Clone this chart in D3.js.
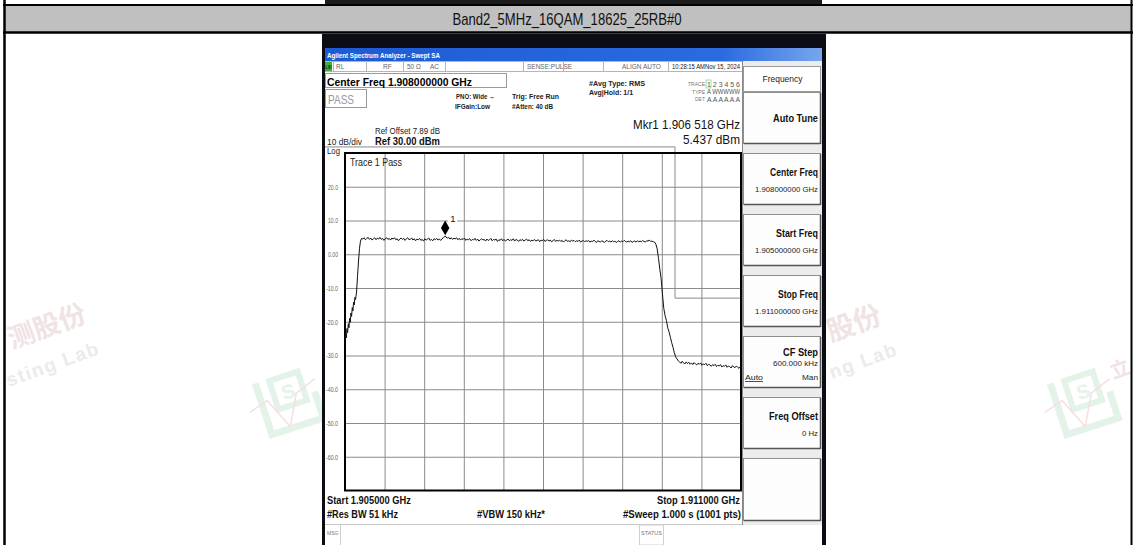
<!DOCTYPE html>
<html><head><meta charset="utf-8">
<script src="https://cdn.jsdelivr.net/npm/d3@7"></script>
<style>
html,body{margin:0;padding:0;background:#fff;}
svg{display:block;font-family:"Liberation Sans",Arial,Helvetica,sans-serif;}
</style></head><body>
<svg id="c" width="1134" height="545"></svg>
<script>
// ================= DATA =================
const chartTitle = "Band2_5MHz_16QAM_18625_25RB#0";
const startFreqLabel = "Start 1.905000 GHz";
const stopFreqLabel = "Stop 1.911000 GHz";
const spanMHz = [0, 6];               // offset from 1.905 GHz
const levelRange = [-70, 30];         // dBm, bottom .. ref level
const xGridMHz = [0.6, 1.2, 1.8, 2.4, 3.0, 3.6, 4.2, 4.8, 5.4];
const yTickValues = [20, 10, 0, -10, -20, -30, -40, -50, -60];
const yTickLabels = ["20.0", "10.0", "0.00", "-10.0", "-20.0", "-30.0", "-40.0", "-50.0", "-60.0"];

// trace: [offset MHz from 1.905 GHz, level dBm]
const traceLeftSkirt = [
  [0.000,-25.6],[0.010,-23.4],[0.020,-24.8],[0.030,-22.0],[0.040,-23.2],[0.050,-20.6],
  [0.060,-21.8],[0.070,-19.0],[0.080,-20.2],[0.090,-17.4],[0.100,-18.4],[0.110,-15.8],
  [0.120,-16.8],[0.130,-14.2],[0.140,-15.0],[0.150,-12.8],[0.160,-13.4],[0.175,-11.2],
  [0.190,-6.5],[0.205,-2.0],[0.220,1.8],[0.235,3.9],[0.250,4.7]
];
const tracePlateau = [
  [0.27,4.5],[0.29,4.9],[0.31,4.3],[0.33,4.7],[0.35,5.0],[0.37,4.4],[0.39,4.8],[0.41,4.2],[0.43,4.6],[0.45,4.9],
  [0.47,4.3],[0.49,4.8],[0.51,4.5],[0.53,5.0],[0.55,4.4],[0.57,4.7],[0.59,4.1],[0.61,4.6],[0.63,4.9],[0.65,4.4],
  [0.67,4.7],[0.69,4.2],[0.71,4.8],[0.73,4.5],[0.75,4.9],[0.77,4.3],[0.79,4.6],[0.81,4.0],[0.83,4.5],[0.85,4.8],
  [0.87,4.4],[0.89,4.7],[0.91,4.1],[0.93,4.6],[0.95,4.9],[0.97,4.3],[0.99,4.5],[1.01,4.8],[1.03,4.2],[1.05,4.6],
  [1.07,4.0],[1.09,4.5],[1.11,4.3],[1.13,4.7],[1.15,4.1],[1.17,4.4],[1.19,3.9],[1.21,4.6],[1.23,4.2],[1.25,4.5],
  [1.27,4.8],[1.29,4.1],[1.31,4.4],[1.33,4.0],[1.35,4.6],[1.37,4.3],[1.39,4.7],[1.41,4.2],[1.43,4.5],[1.45,4.1],
  [1.47,4.6],[1.49,4.9],[1.51,5.2],[1.518,5.437],[1.53,5.1],[1.55,4.8],[1.57,5.0],[1.59,4.5],[1.61,4.9],[1.63,4.4],[1.65,4.8],
  [1.67,4.5],[1.69,4.9],[1.71,4.3],[1.73,4.7],[1.75,4.2],[1.77,4.6],[1.79,4.4],[1.81,4.8],[1.83,4.1],[1.85,4.5],
  [1.87,4.3],[1.89,4.6],[1.91,4.0],[1.93,4.4],[1.95,4.2],[1.97,4.7],[1.99,4.1],[2.01,4.5],[2.03,3.9],[2.05,4.3],
  [2.07,4.6],[2.09,4.2],[2.11,4.4],[2.13,3.9],[2.15,4.5],[2.17,4.1],[2.19,4.3],[2.21,4.7],[2.23,4.0],[2.25,4.4],
  [2.27,4.2],[2.29,4.5],[2.31,3.8],[2.33,4.3],[2.35,4.1],[2.37,4.6],[2.39,4.0],[2.41,4.4],[2.43,3.9],[2.45,4.2],
  [2.47,4.5],[2.49,4.0],[2.51,4.3],[2.53,4.1],[2.55,4.6],[2.57,3.9],[2.59,4.4],[2.61,4.2],[2.63,3.8],[2.65,4.3],
  [2.67,4.1],[2.69,4.4],[2.71,3.9],[2.73,4.2],[2.75,4.5],[2.77,4.0],[2.79,4.3],[2.81,3.8],[2.83,4.2],[2.85,4.0],
  [2.87,4.4],[2.89,3.9],[2.91,4.1],[2.93,4.3],[2.95,3.7],[2.97,4.2],[2.99,4.0],[3.01,4.4],[3.03,3.8],[3.05,4.1],
  [3.07,4.3],[3.09,3.9],[3.11,4.2],[3.13,3.7],[3.15,4.0],[3.17,4.4],[3.19,3.8],[3.21,4.1],[3.23,3.9],[3.25,4.2],
  [3.27,3.8],[3.29,4.1],[3.31,3.6],[3.33,4.0],[3.35,4.3],[3.37,3.8],[3.39,4.0],[3.41,3.7],[3.43,4.2],[3.45,3.9],
  [3.47,4.1],[3.49,3.7],[3.51,4.0],[3.53,3.8],[3.55,4.2],[3.57,3.6],[3.59,3.9],[3.61,4.1],[3.63,3.7],[3.65,4.0],
  [3.67,3.8],[3.69,4.1],[3.71,3.6],[3.73,3.9],[3.75,3.7],[3.77,4.2],[3.79,3.8],[3.81,3.5],[3.83,4.0],[3.85,3.8],
  [3.87,3.6],[3.89,4.0],[3.91,3.8],[3.93,3.5],[3.95,3.9],[3.97,4.1],[3.99,3.7],[4.01,3.9],[4.03,3.6],[4.05,4.0],
  [4.07,3.7],[4.09,3.9],[4.11,3.5],[4.13,3.8],[4.15,4.0],[4.17,3.6],[4.19,3.9],[4.21,3.7],[4.23,4.1],[4.25,3.8],
  [4.27,3.6],[4.29,3.9],[4.31,3.7],[4.33,4.0],[4.35,3.5],[4.37,3.8],[4.39,3.9],[4.41,3.6],[4.43,4.0],[4.45,3.7],
  [4.47,3.9],[4.49,3.7],[4.51,4.1],[4.53,3.8],[4.55,3.6],[4.57,4.0],[4.59,3.9],[4.61,4.2],[4.63,3.8],[4.65,3.9],
  [4.67,3.7]
];
const traceRightSkirt = [
  [4.69,3.6],[4.71,3.0],[4.73,1.6],[4.75,-1.2],[4.77,-4.4],[4.79,-7.2],[4.81,-11.8],[4.83,-16.0],
  [4.85,-18.2],[4.87,-19.6],[4.89,-21.8],[4.91,-23.0],[4.93,-24.6],[4.95,-26.2],[4.97,-27.6],
  [4.99,-29.2],[5.01,-30.4],[5.03,-31.0],[5.05,-31.6]
];
const traceFloor = [
  [5.07,-31.9],[5.09,-32.3],[5.11,-31.7],[5.13,-32.2],[5.15,-32.5],[5.17,-31.9],[5.19,-32.4],[5.21,-32.0],
  [5.23,-32.6],[5.25,-32.2],[5.27,-32.7],[5.29,-32.1],[5.31,-32.5],[5.33,-32.8],[5.35,-32.3],[5.37,-32.6],
  [5.39,-32.2],[5.41,-32.9],[5.43,-32.5],[5.45,-32.7],[5.47,-32.3],[5.49,-33.0],[5.51,-32.6],[5.53,-32.8],
  [5.55,-33.2],[5.57,-32.7],[5.59,-33.0],[5.61,-32.6],[5.63,-33.3],[5.65,-32.9],[5.67,-33.1],[5.69,-32.7],
  [5.71,-33.4],[5.73,-33.0],[5.75,-33.2],[5.77,-32.8],[5.79,-33.5],[5.81,-33.1],[5.83,-33.3],[5.85,-33.7],
  [5.87,-33.0],[5.89,-33.4],[5.91,-33.6],[5.93,-33.1],[5.95,-33.5],[5.97,-33.8],[5.99,-33.3],[6.00,-33.6]
];
// limit (mask) line
const maskLimit = [[0, 31.8], [5.0, 31.8], [5.0, -13.0], [6.0, -13.0]];
const markerPoint = [1.518, 5.437];
const markerLabel = "1";

const softkeyTitle = "Frequency";
const softkeyLabels = ["Auto Tune", "Center Freq", "Start Freq", "Stop Freq", "CF Step", "Freq Offset", ""];
const softkeyValues = ["", "1.908000000 GHz", "1.905000000 GHz", "1.911000000 GHz", "600.000 kHz", "0 Hz", ""];

// ================= DRAW =================
const svg = d3.select("#c");
const CJK = '"Noto Sans CJK SC","Noto Sans",sans-serif';

function T(g, x, y, s, o = {}) {
  const t = g.append("text").attr("x", x).attr("y", y).text(s)
    .attr("font-size", o.size || 9)
    .attr("font-weight", o.weight || "normal")
    .attr("fill", o.fill || "#000")
    .attr("text-anchor", o.anchor || "start");
  if (o.len) t.attr("textLength", o.len).attr("lengthAdjust", "spacingAndGlyphs");
  if (o.family) t.attr("font-family", o.family);
  if (o.deco) t.attr("text-decoration", o.deco);
  return t;
}

// ---- watermarks (faint) ----
const wm = svg.append("g");
function wmText(tx, ty, s, o) {
  const g = wm.append("g").attr("transform", `translate(${tx},${ty}) rotate(-20)`);
  const t = T(g, 0, 0, s, o);
  if (o.ls) t.attr("letter-spacing", o.ls);
}
wmText(12, 349, "测股份", {size: 27, fill: "#f0e3e3", weight: "bold", family: CJK});
wmText(9, 387, "sting Lab", {size: 19, fill: "#ebebeb", weight: "bold", ls: 1.5});
wmText(831, 342, "股份", {size: 28, fill: "#f0e3e3", weight: "bold", family: CJK});
wmText(832, 379, "ng Lab", {size: 19, fill: "#ebebeb", weight: "bold", ls: 1.5});
wmText(1113, 379, "立", {size: 20, fill: "#f0e3e3", weight: "bold", family: CJK});
[254, 1049].forEach(L => {
  const g = wm.append("g").attr("transform", `translate(${L},366) rotate(-18,34,34)`);
  g.append("path").attr("d", "M8,8 L8,62 L62,62 L62,34").attr("fill", "none").attr("stroke", "#e3f3e8").attr("stroke-width", 7);
  g.append("rect").attr("x", 22).attr("y", 10).attr("width", 30).attr("height", 30).attr("fill", "none").attr("stroke", "#e3f3e8").attr("stroke-width", 6);
  T(g, 30, 33, "S", {size: 20, weight: "bold", fill: "#e5f3ea"});
  g.append("polyline").attr("points", "-6,34 14,28 28,60 44,30 66,22").attr("fill", "none").attr("stroke", "#f8dede").attr("stroke-width", 1.5);
});

// ---- table / header row ----
svg.append("rect").attr("x", 325).attr("y", 0).attr("width", 497).attr("height", 4).attr("fill", "#1c1c1c");
svg.append("rect").attr("x", 4).attr("y", 5).attr("width", 1127).attr("height", 27).attr("fill", "#c0c0c0");
svg.append("line").attr("x1", 3).attr("x2", 1133).attr("y1", 5).attr("y2", 5).attr("stroke", "#000").attr("stroke-width", 2);
svg.append("line").attr("x1", 3).attr("x2", 1133).attr("y1", 32.5).attr("y2", 32.5).attr("stroke", "#000").attr("stroke-width", 2.5);
svg.append("line").attr("x1", 4.5).attr("x2", 4.5).attr("y1", 0).attr("y2", 545).attr("stroke", "#000").attr("stroke-width", 2.5);
svg.append("line").attr("x1", 1131.5).attr("x2", 1131.5).attr("y1", 0).attr("y2", 545).attr("stroke", "#000").attr("stroke-width", 2);
T(svg, 567, 25, chartTitle, {size: 17, anchor: "middle", fill: "#111", len: 229});

// ---- screenshot frame ----
const sc = svg.append("g");
sc.append("rect").attr("x", 322).attr("y", 34).attr("width", 504).attr("height", 511).attr("fill", "#0c0d14");
sc.append("rect").attr("x", 325).attr("y", 48).attr("width", 497).attr("height", 497).attr("fill", "#fff");
const defs = svg.append("defs");
const bg = defs.append("linearGradient").attr("id", "blueBar").attr("x1", 0).attr("x2", 1).attr("y1", 0).attr("y2", 0);
bg.append("stop").attr("offset", "0").attr("stop-color", "#1d5bd4");
bg.append("stop").attr("offset", "0.8").attr("stop-color", "#2a6be0");
bg.append("stop").attr("offset", "1").attr("stop-color", "#78a6ee");
sc.append("rect").attr("x", 325).attr("y", 48).attr("width", 497).attr("height", 13).attr("fill", "url(#blueBar)");
T(sc, 327, 58, "Agilent Spectrum Analyzer - Swept SA", {size: 8, weight: "bold", fill: "#fff", len: 113});

// status row
sc.append("rect").attr("x", 325.5).attr("y", 61.5).attr("width", 417).attr("height", 10).attr("fill", "#fff").attr("stroke", "#b5b5b5");
[333, 366, 403, 445, 523, 563, 603, 668].forEach(v =>
  sc.append("line").attr("x1", v + .5).attr("x2", v + .5).attr("y1", 62).attr("y2", 71).attr("stroke", "#b5b5b5"));
sc.append("rect").attr("x", 325).attr("y", 62).attr("width", 7).attr("height", 9).attr("fill", "#35b535");
T(sc, 325.5, 69, "LXI", {size: 4.5, weight: "bold", fill: "#111", len: 6});
const st = [[336, "RL"], [383, "RF"], [407, "50 Ω"], [430, "AC"], [527, "SENSE:PULSE"], [622, "ALIGN AUTO"]];
st.forEach(d => T(sc, d[0], 69, d[1], {size: 6.5, fill: "#666"}));
T(sc, 740, 69, "10:28:15 AMNov 15, 2024", {size: 6.8, fill: "#222", anchor: "end", len: 68});

// center freq box & pass box
sc.append("rect").attr("x", 325.5).attr("y", 73.5).attr("width", 181).attr("height", 14).attr("fill", "#fff").attr("stroke", "#9a9a9a");
T(sc, 327, 85.5, "Center Freq 1.908000000 GHz", {size: 11.5, weight: "bold", len: 145});
sc.append("rect").attr("x", 325.5).attr("y", 89.5).attr("width", 41).attr("height", 18).attr("fill", "#fff").attr("stroke", "#9a9a9a");
T(sc, 328, 103.5, "PASS", {size: 13, fill: "#9a9a9a", len: 26});

T(sc, 456, 99, "PNO: Wide ↔", {size: 7.5, weight: "bold", fill: "#222", len: 39});
T(sc, 455, 109, "IFGain:Low", {size: 7.5, weight: "bold", fill: "#222", len: 35});
T(sc, 512, 99, "Trig: Free Run", {size: 7.8, weight: "bold", fill: "#222", len: 47});
T(sc, 512, 108.5, "#Atten: 40 dB", {size: 7.5, weight: "bold", fill: "#222", len: 41});
T(sc, 589, 86, "#Avg Type: RMS", {size: 7.8, weight: "bold", fill: "#222", len: 56});
T(sc, 589, 95, "Avg|Hold: 1/1", {size: 7.5, weight: "bold", fill: "#222", len: 44});

T(sc, 705, 86, "TRACE", {size: 5, fill: "#777", anchor: "end"});
T(sc, 707, 86.5, "1 2 3 4 5 6", {size: 7, fill: "#555", len: 33});
sc.append("rect").attr("x", 706).attr("y", 80).attr("width", 5).attr("height", 8).attr("fill", "none").attr("stroke", "#6c6").attr("stroke-width", .6);
T(sc, 705, 94, "TYPE", {size: 5, fill: "#777", anchor: "end"});
T(sc, 707, 94, "A WWWWW", {size: 6.5, fill: "#555", len: 33});
T(sc, 705, 101, "DET", {size: 5, fill: "#777", anchor: "end"});
T(sc, 707, 101.5, "A A A A A A", {size: 6.5, fill: "#555", len: 33});

T(sc, 740, 129, "Mkr1 1.906 518 GHz", {size: 13.5, anchor: "end", fill: "#111", len: 107});
T(sc, 740, 144, "5.437 dBm", {size: 13.5, anchor: "end", fill: "#111", len: 57});
T(sc, 375, 134, "Ref Offset 7.89 dB", {size: 8.5, fill: "#222", len: 65});
T(sc, 327, 145, "10 dB/div", {size: 8.5, fill: "#222", len: 35});
T(sc, 375, 145, "Ref 30.00 dBm", {size: 11, weight: "bold", fill: "#111", len: 65});
T(sc, 327, 154, "Log", {size: 8.5, fill: "#222", len: 13});

// ---- plot ----
const PL = 345, PR = 741, PT = 153, PB = 490.5;
const x = d3.scaleLinear().domain(spanMHz).range([PL, PR]);
const y = d3.scaleLinear().domain(levelRange).range([PB, PT]);

sc.append("rect").attr("x", PL).attr("y", PT).attr("width", PR - PL).attr("height", PB - PT).attr("fill", "#fff");
const gx = sc.append("g").attr("transform", `translate(0,${PB})`)
  .call(d3.axisBottom(x).tickValues(xGridMHz).tickSize(-(PB - PT)).tickFormat(""));
gx.select(".domain").remove();
gx.selectAll("line").attr("stroke", "#8a8a8a");
const gy = sc.append("g").attr("transform", `translate(${PL},0)`)
  .call(d3.axisLeft(y).tickValues(yTickValues).tickFormat((d, i) => yTickLabels[i]).tickSize(-(PR - PL)).tickPadding(7));
gy.select(".domain").remove();
gy.selectAll("line").attr("stroke", "#8a8a8a");
gy.attr("font-family", '"Liberation Sans",Arial,sans-serif').attr("font-size", 7.5);
gy.selectAll("text").attr("fill", "#666").attr("textLength", function () { return this.textContent.length > 4 ? 12 : 10; }).attr("lengthAdjust", "spacingAndGlyphs");

// mask limit line (extends left to screen edge)
sc.append("line").attr("x1", 325).attr("x2", PL).attr("y1", y(maskLimit[0][1])).attr("y2", y(maskLimit[0][1])).attr("stroke", "#8a8a8a");
sc.append("path").datum(maskLimit)
  .attr("d", d3.line().x(d => x(d[0])).y(d => y(d[1])))
  .attr("fill", "none").attr("stroke", "#8a8a8a").attr("stroke-width", 1);

sc.append("rect").attr("x", PL).attr("y", PT).attr("width", PR - PL).attr("height", PB - PT)
  .attr("fill", "none").attr("stroke", "#000").attr("stroke-width", 2);

T(sc, 350, 166, "Trace 1 Pass", {size: 10, fill: "#222", len: 52});

const trace = traceLeftSkirt.concat(tracePlateau, traceRightSkirt, traceFloor);
sc.append("path").datum(trace)
  .attr("d", d3.line().x(d => x(d[0])).y(d => y(d[1])))
  .attr("fill", "none").attr("stroke", "#111").attr("stroke-width", 1).attr("stroke-linejoin", "round");

// marker
const mx = x(markerPoint[0]), my = y(markerPoint[1]);
sc.append("rect").attr("x", mx + 3).attr("y", my - 22).attr("width", 9).attr("height", 11).attr("fill", "#fff");
sc.append("path").attr("d", d3.symbol(d3.symbolDiamond, 62)()).attr("transform", `translate(${mx},${my - 8})`).attr("fill", "#000");
T(sc, mx + 5, my - 13.5, markerLabel, {size: 9.5, fill: "#111"});

// bottom annotations
T(sc, 327, 504, startFreqLabel, {size: 11, weight: "bold", fill: "#111", len: 84});
T(sc, 327, 518, "#Res BW 51 kHz", {size: 11, weight: "bold", fill: "#111", len: 71});
T(sc, 477, 518, "#VBW 150 kHz*", {size: 11, weight: "bold", fill: "#111", len: 68});
T(sc, 740, 504, stopFreqLabel, {size: 11, weight: "bold", fill: "#111", anchor: "end", len: 83});
T(sc, 741, 518, "#Sweep  1.000 s (1001 pts)", {size: 11, weight: "bold", fill: "#111", anchor: "end", len: 118});

// status bar
sc.append("line").attr("x1", 325).attr("x2", 822).attr("y1", 524.5).attr("y2", 524.5).attr("stroke", "#c8c8c8");
sc.append("line").attr("x1", 340.5).attr("x2", 340.5).attr("y1", 525).attr("y2", 545).attr("stroke", "#d0d0d0");
T(sc, 327, 535, "MSG", {size: 5, fill: "#777"});
sc.append("rect").attr("x", 639.5).attr("y", 525).attr("width", 24).attr("height", 20).attr("fill", "none").attr("stroke", "#d0d0d0");
T(sc, 641, 535, "STATUS", {size: 5, fill: "#777", len: 21});

// ---- softkey panel ----
const KX = 743, KW = 77;
sc.append("rect").attr("x", 742).attr("y", 61).attr("width", 80).attr("height", 464).attr("fill", "#ececec");
sc.append("line").attr("x1", 742.5).attr("x2", 742.5).attr("y1", 61).attr("y2", 525).attr("stroke", "#888");
sc.append("rect").attr("x", KX + .5).attr("y", 66.5).attr("width", KW).attr("height", 25).attr("fill", "#fff").attr("stroke", "#999");
T(sc, KX + KW / 2 + 1, 82, softkeyTitle, {size: 9.5, anchor: "middle", fill: "#222", len: 40});

const labelLens = {"Auto Tune": 45, "Center Freq": 48, "Start Freq": 42, "Stop Freq": 40, "CF Step": 35, "Freq Offset": 49};
const valueLens = {"1.908000000 GHz": 63, "1.905000000 GHz": 63, "1.911000000 GHz": 63, "600.000 kHz": 45, "0 Hz": 16};
softkeyLabels.forEach((lab, i) => {
  const top = 92 + i * 61;
  const h = i === softkeyLabels.length - 1 ? 62 : 51;
  sc.append("rect").attr("x", KX + .5).attr("y", top + .5).attr("width", KW).attr("height", h)
    .attr("fill", "#fdfdfd").attr("stroke", "#8e8e8e");
  sc.append("line").attr("x1", KX + 1).attr("x2", KX + KW + .5).attr("y1", top + h + .5).attr("y2", top + h + .5).attr("stroke", "#555").attr("stroke-width", 1.5);
  sc.append("line").attr("x1", KX + KW + .5).attr("x2", KX + KW + .5).attr("y1", top + 1).attr("y2", top + h + 1).attr("stroke", "#555").attr("stroke-width", 1.5);
  if (!lab) return;
  const val = softkeyValues[i];
  const isCF = lab === "CF Step";
  const ly = !val ? top + 29.5 : (isCF ? top + 19.5 : top + 23);
  T(sc, KX + KW - 2, ly, lab, {size: 10, weight: "bold", fill: "#111", anchor: "end", len: labelLens[lab]});
  if (val) T(sc, KX + KW - 2, isCF ? top + 30 : top + 38.5, val, {size: 8, fill: "#222", anchor: "end", len: valueLens[val]});
  if (isCF) {
    T(sc, KX + 2, top + 44, "Auto", {size: 8, fill: "#222", deco: "underline", len: 18});
    T(sc, KX + KW - 2, top + 44, "Man", {size: 8, fill: "#222", anchor: "end", len: 16});
  }
});
</script>
</body></html>
